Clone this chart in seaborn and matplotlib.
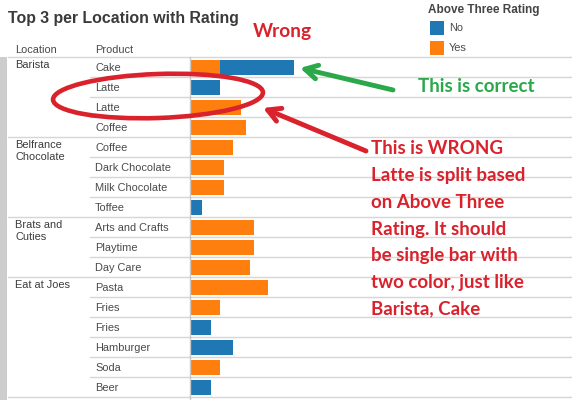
import pandas as pd
import matplotlib
matplotlib.use('Agg')
import matplotlib.pyplot as plt
import seaborn as sns
from matplotlib.patches import Ellipse, Rectangle
from matplotlib.transforms import blended_transform_factory

# Dados (largura das barras em pixels)
locations = ['Barista', 'Belfrance\nChocolate', 'Brats and\nCuties', 'Eat at Joes']
group_sizes = [4, 4, 3, 6]
products = ['Cake', 'Latte', 'Latte', 'Coffee',
            'Coffee', 'Dark Chocolate', 'Milk Chocolate', 'Toffee',
            'Arts and Crafts', 'Playtime', 'Day Care',
            'Pasta', 'Fries', 'Fries', 'Hamburger', 'Soda', 'Beer']
yes_vals = [30, 0, 51, 56, 43, 34, 34, 0, 64, 64, 60, 78, 30, 0, 0, 30, 0]
no_vals = [74, 30, 0, 0, 0, 0, 0, 12, 0, 0, 0, 0, 0, 21, 43, 0, 21]
legend_labels = ['No', 'Yes']

BLUE = '#1f77b4'
ORANGE = '#ff7f0e'
RED = '#d9222c'
GREEN = '#2aa84a'
GRID = '#d6d6d6'
TXT = '#4a4a4a'
FS = 7.9

df = pd.DataFrame({'row': range(len(products)), 'product': products,
                   'yes': yes_vals, 'no': no_vals})
# barra azul = total (empilhado), laranja desenhada por cima
df['stack_no'] = [y + n if n > 0 else 0 for y, n in zip(df['yes'], df['no'])]

sns.set_style('white')
plt.rcParams['font.family'] = ['Liberation Sans', 'DejaVu Sans']

W, H = 572, 400
fig = plt.figure(figsize=(W / 100, H / 100), dpi=100)
ax = fig.add_axes([190 / W, 0, (W - 190) / W, 343 / H])

sns.barplot(data=df, x='stack_no', y='row', orient='y', color=BLUE, saturation=1,
            width=0.75, errorbar=None, linewidth=0, ax=ax)
sns.barplot(data=df, x='yes', y='row', orient='y', color=ORANGE, saturation=1,
            width=0.75, errorbar=None, linewidth=0, ax=ax)

ax.set_xlim(0, W - 190)
ax.set_ylim(16.65, -0.5)
ax.set_xlabel('')
ax.set_ylabel('')
ax.set_xticks([])
ax.set_yticks(range(len(products)))
ax.set_yticklabels(products, ha='left', fontsize=FS, color=TXT)
ax.tick_params(axis='y', length=0, pad=95 * 0.72)
for s in ['top', 'right', 'bottom']:
    ax.spines[s].set_visible(False)
ax.spines['left'].set_color('#c8c8c8')
ax.spines['left'].set_linewidth(1)

# linhas separadoras das linhas e grupos
trans = blended_transform_factory(fig.transFigure, ax.transData)
group_starts = [sum(group_sizes[:i]) for i in range(len(group_sizes))]
group_edges = [s - 0.5 for s in group_starts] + [len(products) - 0.5]
for r in range(len(products) + 1):
    y = r - 0.5
    x0 = 8 / W if y in group_edges else 90 / W
    ax.plot([x0, 1], [y, y], color=GRID, lw=1, transform=trans, clip_on=False, zorder=0)

for loc, start in zip(locations, group_starts):
    ax.text(15 / W, start - 0.33, loc, transform=trans, ha='left', va='top',
            fontsize=FS, color='#3c3c3c', linespacing=1.15)

# camada de anotações em coordenadas de pixel
ov = fig.add_axes([0, 0, 1, 1], zorder=5)
ov.set_xlim(0, W)
ov.set_ylim(H, 0)
ov.axis('off')
ov.patch.set_alpha(0)

ov.add_patch(Rectangle((0, 57), 7, H - 57, color='#cdcdcd', lw=0))
ov.text(8, 18, 'Top 3 per Location with Rating', fontsize=11.4, fontweight='bold',
        color='#3a3a3a', va='center')
ov.text(15, 50, 'Location', fontsize=FS, color=TXT, va='center')
ov.text(95, 50, 'Product', fontsize=FS, color=TXT, va='center')

# legenda
ov.text(428, 10, 'Above Three Rating', fontsize=8.5, fontweight='bold', color='#444444', va='center')
for i, (lab, col) in enumerate(zip(legend_labels, [BLUE, ORANGE])):
    ov.add_patch(Rectangle((430, 21 + 20 * i), 14, 14, color=col, lw=0))
    ov.text(449, 28 + 20 * i, lab, fontsize=FS, color=TXT, va='center')

# anotações à mão
ov.text(253, 32, 'Wrong', family='Lato', fontweight='bold', fontsize=13.8, color=RED, va='center')
ov.text(418, 87, 'This is correct', family='Lato', fontweight='bold', fontsize=13.5,
        color=GREEN, va='center')
note = ['This is WRONG', 'Latte is split based', 'on Above Three', 'Rating. It should',
        'be single bar with', 'two color, just like', 'Barista, Cake']
for i, line in enumerate(note):
    ov.text(371, 149 + 26.7 * i, line, family='Lato', fontweight='bold', fontsize=13.5,
            color=RED, va='center')

ov.add_patch(Ellipse((158, 96), 210, 44, angle=-2, fill=False, edgecolor=RED, lw=3.3))
ov.annotate('', xy=(300, 68), xytext=(393, 90),
            arrowprops=dict(arrowstyle='->,head_length=0.9,head_width=0.5', color=GREEN,
                            lw=3.5, shrinkA=0, shrinkB=0))
ov.annotate('', xy=(263, 108), xytext=(366, 151),
            arrowprops=dict(arrowstyle='->,head_length=0.9,head_width=0.5', color=RED,
                            lw=3.5, shrinkA=0, shrinkB=0))

fig.savefig('out.png', dpi=100)
